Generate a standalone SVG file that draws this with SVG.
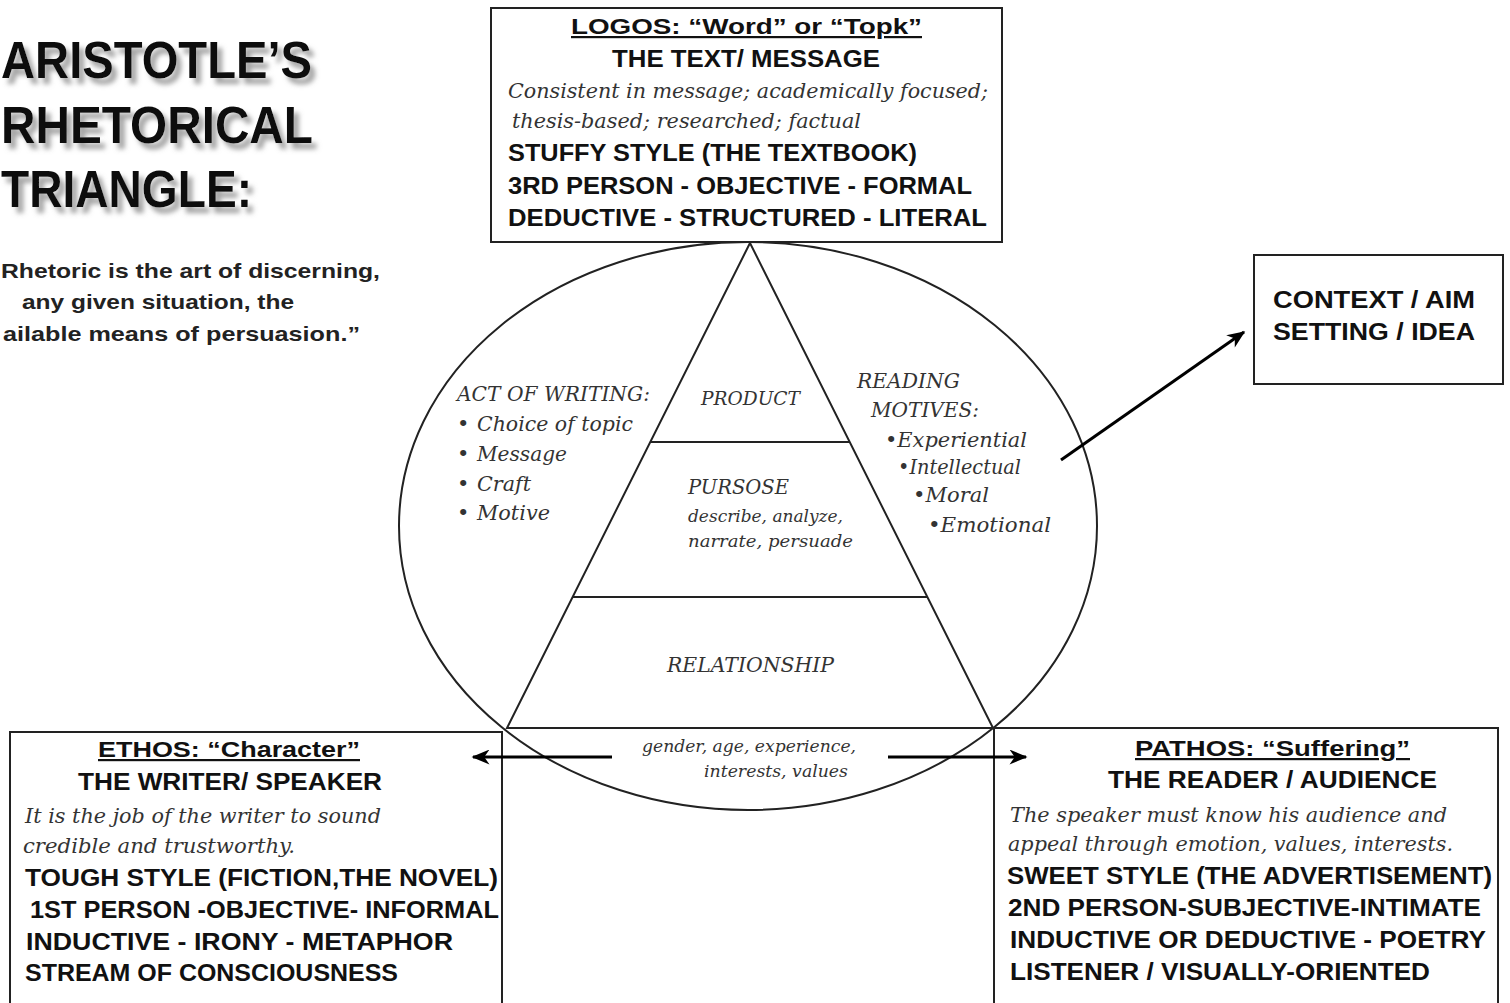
<svg xmlns="http://www.w3.org/2000/svg" width="1510" height="1003" viewBox="0 0 1510 1003">
<style>
.bg{fill:#fff}
.box{fill:#fff;stroke:#222;stroke-width:2}
.shape{fill:none;stroke:#222;stroke-width:2}
.hd{font-family:"Liberation Sans",Arial,sans-serif;font-weight:bold;fill:#111}
.ttl{font-family:"Liberation Sans",Arial,sans-serif;font-weight:bold;font-size:52px;fill:#111}
.quote{font-family:"Liberation Sans",Arial,sans-serif;font-weight:bold;font-size:21px;fill:#222}
.it{font-family:"DejaVu Serif","Liberation Serif",serif;font-style:italic;fill:#333}
.u{text-decoration:underline}
.conn{fill:none;stroke:#000;stroke-width:3}
</style>
<defs>
<filter id="shadow" x="-10%" y="-20%" width="130%" height="160%">
<feDropShadow dx="5" dy="6" stdDeviation="2.5" flood-color="#999" flood-opacity="0.9"/>
</filter>
<marker id="arrB" viewBox="0 0 12 10" refX="11" refY="5" markerWidth="19" markerHeight="15" markerUnits="userSpaceOnUse" orient="auto">
<path d="M0,0 L12,5 L0,10 L3.5,5 z" fill="#000"/>
</marker>
</defs>
<rect class="bg" x="0" y="0" width="1510" height="1003"/>

<g id="title">
<text class="ttl" x="1" y="78" textLength="311" lengthAdjust="spacingAndGlyphs" filter="url(#shadow)">ARISTOTLE’S</text>
<text class="ttl" x="1" y="143" textLength="312" lengthAdjust="spacingAndGlyphs" filter="url(#shadow)">RHETORICAL</text>
<text class="ttl" x="1" y="207" textLength="251" lengthAdjust="spacingAndGlyphs" filter="url(#shadow)">TRIANGLE:</text>
<text class="quote" x="1" y="278" textLength="379" lengthAdjust="spacingAndGlyphs">Rhetoric is the art of discerning,</text>
<text class="quote" x="22" y="309" textLength="272" lengthAdjust="spacingAndGlyphs">any given situation, the</text>
<text class="quote" x="3" y="341" textLength="357" lengthAdjust="spacingAndGlyphs">ailable means of persuasion.”</text>
</g>

<g id="ellipse-triangle">
<ellipse class="shape" cx="748" cy="526" rx="349" ry="284"/>
<polygon class="shape" points="750,243 507,728 993,728"/>
<line class="shape" x1="650" y1="442" x2="849" y2="442"/>
<line class="shape" x1="573" y1="597" x2="927" y2="597"/>
</g>

<g id="logos">
<rect class="box" x="491" y="8" width="511" height="234"/>
<text class="hd u" x="571" y="34" font-size="22" textLength="351" lengthAdjust="spacingAndGlyphs">LOGOS: “Word” or “Topk”</text>
<text class="hd" x="612" y="67" font-size="24" textLength="268" lengthAdjust="spacingAndGlyphs">THE TEXT/ MESSAGE</text>
<text class="it" x="508" y="98" font-size="20" textLength="480" lengthAdjust="spacingAndGlyphs">Consistent in message; academically focused;</text>
<text class="it" x="512" y="128" font-size="20" textLength="349" lengthAdjust="spacingAndGlyphs">thesis-based; researched; factual</text>
<text class="hd" x="508" y="161" font-size="23" textLength="409" lengthAdjust="spacingAndGlyphs">STUFFY STYLE (THE TEXTBOOK)</text>
<text class="hd" x="508" y="194" font-size="23" textLength="464" lengthAdjust="spacingAndGlyphs">3RD PERSON - OBJECTIVE - FORMAL</text>
<text class="hd" x="508" y="226" font-size="23" textLength="479" lengthAdjust="spacingAndGlyphs">DEDUCTIVE - STRUCTURED - LITERAL</text>
</g>

<g id="ethos">
<rect class="box" x="10" y="732" width="492" height="290"/>
<text class="hd u" x="98" y="757" font-size="22" textLength="262" lengthAdjust="spacingAndGlyphs">ETHOS: “Character”</text>
<text class="hd" x="78" y="790" font-size="23" textLength="304" lengthAdjust="spacingAndGlyphs">THE WRITER/ SPEAKER</text>
<text class="it" x="25" y="823" font-size="20" textLength="356" lengthAdjust="spacingAndGlyphs">It is the job of the writer to sound</text>
<text class="it" x="23" y="853" font-size="20" textLength="272" lengthAdjust="spacingAndGlyphs">credible and trustworthy.</text>
<text class="hd" x="25" y="886" font-size="23" textLength="473" lengthAdjust="spacingAndGlyphs">TOUGH STYLE (FICTION,THE NOVEL)</text>
<text class="hd" x="30" y="918" font-size="23" textLength="469" lengthAdjust="spacingAndGlyphs">1ST PERSON -OBJECTIVE- INFORMAL</text>
<text class="hd" x="26" y="950" font-size="23" textLength="427" lengthAdjust="spacingAndGlyphs">INDUCTIVE - IRONY - METAPHOR</text>
<text class="hd" x="25" y="981" font-size="23" textLength="373" lengthAdjust="spacingAndGlyphs">STREAM OF CONSCIOUSNESS</text>
</g>

<g id="pathos">
<rect class="box" x="994" y="728" width="504" height="294"/>
<text class="hd u" x="1135" y="756" font-size="22" textLength="275" lengthAdjust="spacingAndGlyphs">PATHOS: “Suffering”</text>
<text class="hd" x="1108" y="788" font-size="23" textLength="329" lengthAdjust="spacingAndGlyphs">THE READER / AUDIENCE</text>
<text class="it" x="1010" y="822" font-size="20" textLength="437" lengthAdjust="spacingAndGlyphs">The speaker must know his audience and</text>
<text class="it" x="1008" y="851" font-size="20" textLength="445" lengthAdjust="spacingAndGlyphs">appeal through emotion, values, interests.</text>
<text class="hd" x="1007" y="884" font-size="23" textLength="485" lengthAdjust="spacingAndGlyphs">SWEET STYLE (THE ADVERTISEMENT)</text>
<text class="hd" x="1008" y="916" font-size="23" textLength="473" lengthAdjust="spacingAndGlyphs">2ND PERSON-SUBJECTIVE-INTIMATE</text>
<text class="hd" x="1010" y="948" font-size="23" textLength="476" lengthAdjust="spacingAndGlyphs">INDUCTIVE OR DEDUCTIVE - POETRY</text>
<text class="hd" x="1010" y="980" font-size="23" textLength="420" lengthAdjust="spacingAndGlyphs">LISTENER / VISUALLY-ORIENTED</text>
</g>

<g id="context">
<rect class="box" x="1254" y="255" width="249" height="129"/>
<text class="hd" x="1273" y="308" font-size="23" textLength="202" lengthAdjust="spacingAndGlyphs">CONTEXT / AIM</text>
<text class="hd" x="1273" y="340" font-size="23" textLength="202" lengthAdjust="spacingAndGlyphs">SETTING / IDEA</text>
</g>

<g id="act-of-writing">
<text class="it" x="457" y="401" font-size="21" textLength="193" lengthAdjust="spacingAndGlyphs">ACT OF WRITING:</text>
<text class="it" x="457" y="431" font-size="21">•</text>
<text class="it" x="477" y="431" font-size="21" textLength="156" lengthAdjust="spacingAndGlyphs">Choice of topic</text>
<text class="it" x="457" y="461" font-size="21">•</text>
<text class="it" x="477" y="461" font-size="21" textLength="90" lengthAdjust="spacingAndGlyphs">Message</text>
<text class="it" x="457" y="491" font-size="21">•</text>
<text class="it" x="477" y="491" font-size="21" textLength="54" lengthAdjust="spacingAndGlyphs">Craft</text>
<text class="it" x="457" y="520" font-size="21">•</text>
<text class="it" x="477" y="520" font-size="21" textLength="73" lengthAdjust="spacingAndGlyphs">Motive</text>
</g>

<g id="triangle-labels">
<text class="it" x="701" y="405" font-size="19" textLength="99" lengthAdjust="spacingAndGlyphs">PRODUCT</text>
<text class="it" x="688" y="494" font-size="20" textLength="101" lengthAdjust="spacingAndGlyphs">PURSOSE</text>
<text class="it" x="688" y="522" font-size="17" textLength="155" lengthAdjust="spacingAndGlyphs">describe, analyze,</text>
<text class="it" x="688" y="547" font-size="17" textLength="165" lengthAdjust="spacingAndGlyphs">narrate,  persuade</text>
<text class="it" x="667" y="672" font-size="21" textLength="167" lengthAdjust="spacingAndGlyphs">RELATIONSHIP</text>
<text class="it" x="642" y="752" font-size="17" textLength="214" lengthAdjust="spacingAndGlyphs">gender, age, experience,</text>
<text class="it" x="704" y="777" font-size="17" textLength="144" lengthAdjust="spacingAndGlyphs">interests, values</text>
</g>

<g id="reading-motives">
<text class="it" x="857" y="388" font-size="21" textLength="103" lengthAdjust="spacingAndGlyphs">READING</text>
<text class="it" x="871" y="417" font-size="21" textLength="108" lengthAdjust="spacingAndGlyphs">MOTIVES:</text>
<text class="it" x="885" y="447" font-size="21" textLength="142" lengthAdjust="spacingAndGlyphs">•Experiential</text>
<text class="it" x="898" y="474" font-size="20" textLength="123" lengthAdjust="spacingAndGlyphs">•Intellectual</text>
<text class="it" x="913" y="502" font-size="21" textLength="76" lengthAdjust="spacingAndGlyphs">•Moral</text>
<text class="it" x="928" y="532" font-size="21" textLength="123" lengthAdjust="spacingAndGlyphs">•Emotional</text>
</g>

<g id="connectors">
<line class="conn" x1="612" y1="757" x2="473" y2="757" marker-end="url(#arrB)"/>
<line class="conn" x1="888" y1="757" x2="1026" y2="757" marker-end="url(#arrB)"/>
<line class="conn" x1="1061" y1="460" x2="1244" y2="332" marker-end="url(#arrB)"/>
</g>
</svg>
